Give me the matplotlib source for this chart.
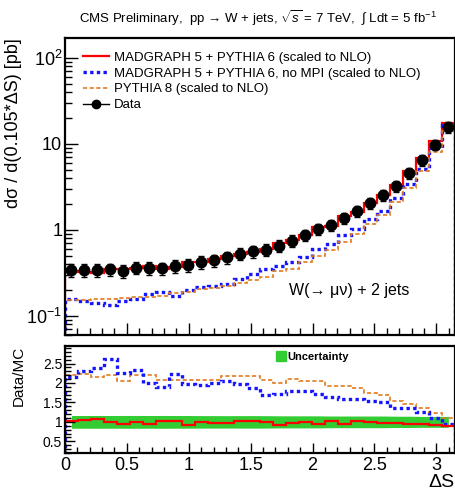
import numpy as np
import matplotlib.pyplot as plt
from matplotlib.lines import Line2D
from matplotlib.patches import Patch
from matplotlib.ticker import FixedLocator, FixedFormatter, MultipleLocator, LogLocator, NullFormatter

plt.rcParams['font.family'] = ['Liberation Sans', 'DejaVu Sans']
plt.rcParams['mathtext.fontset'] = 'custom'
plt.rcParams['mathtext.rm'] = 'Liberation Sans'
plt.rcParams['mathtext.it'] = 'Liberation Sans:italic'
plt.rcParams['mathtext.bf'] = 'Liberation Sans:bold'

# 30 bins of width 0.105 in Delta S
bin_width = 0.105
n_bins = 30

data = [0.342, 0.342, 0.340, 0.349, 0.334, 0.364, 0.361, 0.358, 0.380, 0.391,
        0.423, 0.443, 0.482, 0.530, 0.566, 0.589, 0.655, 0.748, 0.869, 1.02,
        1.13, 1.38, 1.65, 2.04, 2.52, 3.20, 4.56, 6.50, 9.82, 15.7]
data_err = [0.056, 0.056, 0.056, 0.057, 0.055, 0.060, 0.059, 0.059, 0.062, 0.064,
            0.068, 0.071, 0.077, 0.085, 0.091, 0.094, 0.102, 0.116, 0.135, 0.158,
            0.170, 0.207, 0.248, 0.306, 0.378, 0.464, 0.661, 0.910, 1.375, 2.198]

mg5_py6 = [0.335, 0.326, 0.318, 0.349, 0.355, 0.364, 0.380, 0.348, 0.373, 0.425,
           0.427, 0.457, 0.492, 0.520, 0.555, 0.595, 0.712, 0.763, 0.878, 1.085,
           1.119, 1.453, 1.634, 2.061, 2.571, 3.299, 4.800, 6.915, 10.67, 17.64]
mg5_py6_nompi = [0.158, 0.149, 0.142, 0.134, 0.148, 0.156, 0.181, 0.189, 0.171, 0.199,
                 0.218, 0.223, 0.234, 0.269, 0.304, 0.349, 0.383, 0.418, 0.485, 0.596,
                 0.693, 0.863, 1.031, 1.333, 1.658, 2.353, 3.378, 5.159, 9.009, 16.70]
pythia8 = [0.155, 0.153, 0.157, 0.159, 0.163, 0.165, 0.164, 0.172, 0.183, 0.188,
           0.203, 0.213, 0.222, 0.244, 0.261, 0.285, 0.329, 0.355, 0.424, 0.495,
           0.585, 0.715, 0.887, 1.166, 1.491, 2.092, 3.102, 4.815, 8.049, 14.14]

labels = ['MADGRAPH 5 + PYTHIA 6 (scaled to NLO)',
          'MADGRAPH 5 + PYTHIA 6, no MPI (scaled to NLO)',
          'PYTHIA 8 (scaled to NLO)',
          'Data']

edges = np.arange(n_bins + 1) * bin_width
centers = edges[:-1] + bin_width / 2
data = np.array(data)
data_err = np.array(data_err)
mg5_py6 = np.array(mg5_py6)
mg5_py6_nompi = np.array(mg5_py6_nompi)
pythia8 = np.array(pythia8)

c_red = '#ff0000'
c_blue = '#1414ff'
c_orange = '#e07a1c'
c_green = '#33cc33'
ls_blue = (0, (1, 1))
ls_orange = (0, (2.5, 1.5))

fig = plt.figure(figsize=(4.56, 4.96), dpi=100)
ax = fig.add_axes([0.1425, 0.3246, 0.855, 0.5988])
rax = fig.add_axes([0.1425, 0.0867, 0.855, 0.2157])

# main panel
ax.stairs(mg5_py6, edges, color=c_red, lw=1.6)
ax.stairs(mg5_py6_nompi, edges, color=c_blue, lw=2.4, linestyle=ls_blue)
ax.stairs(pythia8, edges, color=c_orange, lw=1.2, linestyle=ls_orange)
ax.errorbar(centers, data, yerr=data_err, fmt='o', color='black', ms=7.5,
            capsize=2, elinewidth=1, capthick=1, zorder=5)

ax.set_yscale('log')
ax.set_ylim(0.06, 170)
ax.set_xlim(0, 3.15)
ax.yaxis.set_major_locator(FixedLocator([0.1, 1, 10, 100]))
ax.yaxis.set_major_formatter(FixedFormatter(['$10^{-1}$', '1', '10', '$10^{2}$']))
ax.yaxis.set_minor_locator(LogLocator(base=10, subs=np.arange(2, 10)))
ax.yaxis.set_minor_formatter(NullFormatter())
ax.xaxis.set_major_locator(MultipleLocator(0.5))
ax.xaxis.set_minor_locator(MultipleLocator(0.1))
ax.tick_params(axis='x', labelbottom=False)
ax.tick_params(axis='y', labelsize=13, pad=2)
ax.tick_params(which='both', direction='in', top=False, right=False)
ax.tick_params(which='major', length=9, width=1)
ax.tick_params(which='minor', length=5, width=1)

ax.set_ylabel('dσ / d(0.105*ΔS) [pb]', fontsize=13, loc='top')
ax.yaxis.set_label_coords(-0.110, 1.0)

handles = [Line2D([], [], color=c_red, lw=1.6),
           Line2D([], [], color=c_blue, lw=2.4, linestyle=ls_blue),
           Line2D([], [], color=c_orange, lw=1.2, linestyle=ls_orange),
           Line2D([], [], color='black', lw=1, marker='o', ms=6)]
ax.legend(handles, labels, loc='upper left', bbox_to_anchor=(0.045, 0.955),
          frameon=False, fontsize=9.5, handlelength=2.0, handletextpad=0.4,
          labelspacing=0.28, borderpad=0, borderaxespad=0)

ax.text(0.73, 0.149, 'W(→ μν) + 2 jets', transform=ax.transAxes,
        ha='center', va='center', fontsize=11.5)

# ratio panel
rel = data_err / data
rax.fill_between(centers, 1 - rel, 1 + rel, color=c_green, lw=0)
rax.stairs(data / pythia8, edges, color=c_orange, lw=1.2, linestyle=ls_orange)
rax.stairs(data / mg5_py6_nompi, edges, color=c_blue, lw=2.4, linestyle=ls_blue)
rax.stairs(data / mg5_py6, edges, color=c_red, lw=1.6)

rax.set_xlim(0, 3.15)
rax.set_ylim(0.2, 2.95)
rax.yaxis.set_major_locator(FixedLocator([0.5, 1, 1.5, 2, 2.5]))
rax.yaxis.set_major_formatter(FixedFormatter(['0.5', '1', '1.5', '2', '2.5']))
rax.yaxis.set_minor_locator(MultipleLocator(0.1))
rax.xaxis.set_major_locator(FixedLocator([0, 0.5, 1, 1.5, 2, 2.5, 3]))
rax.xaxis.set_major_formatter(FixedFormatter(['0', '0.5', '1', '1.5', '2', '2.5', '3']))
rax.xaxis.set_minor_locator(MultipleLocator(0.1))
rax.tick_params(axis='y', labelsize=10, pad=2)
rax.tick_params(axis='x', labelsize=13, pad=3)
rax.tick_params(which='both', direction='in', top=False, right=False)
rax.tick_params(which='major', length=7, width=1)
rax.tick_params(which='minor', length=4, width=1)

rax.set_ylabel('Data/MC', fontsize=11, loc='top')
rax.yaxis.set_label_coords(-0.100, 1.0)
rax.set_xlabel('ΔS', fontsize=14, loc='right', labelpad=0)

rax.legend([Patch(color=c_green)], ['Uncertainty'], loc='upper left',
           bbox_to_anchor=(0.54, 0.95), frameon=False,
           prop={'weight': 'bold', 'size': 8}, handlelength=0.9, handleheight=1.0,
           handletextpad=0.2, borderpad=0, borderaxespad=0)

for a in (ax, rax):
    for sp in a.spines.values():
        sp.set_linewidth(1.6)

fig.text(0.565, 0.963, r'CMS Preliminary,  pp → W + jets, $\sqrt{s}$ = 7 TeV,  $\int$ Ldt = 5 fb$^{-1}$',
         ha='center', va='center', fontsize=9.5)

fig.savefig('out.png', dpi=100)
